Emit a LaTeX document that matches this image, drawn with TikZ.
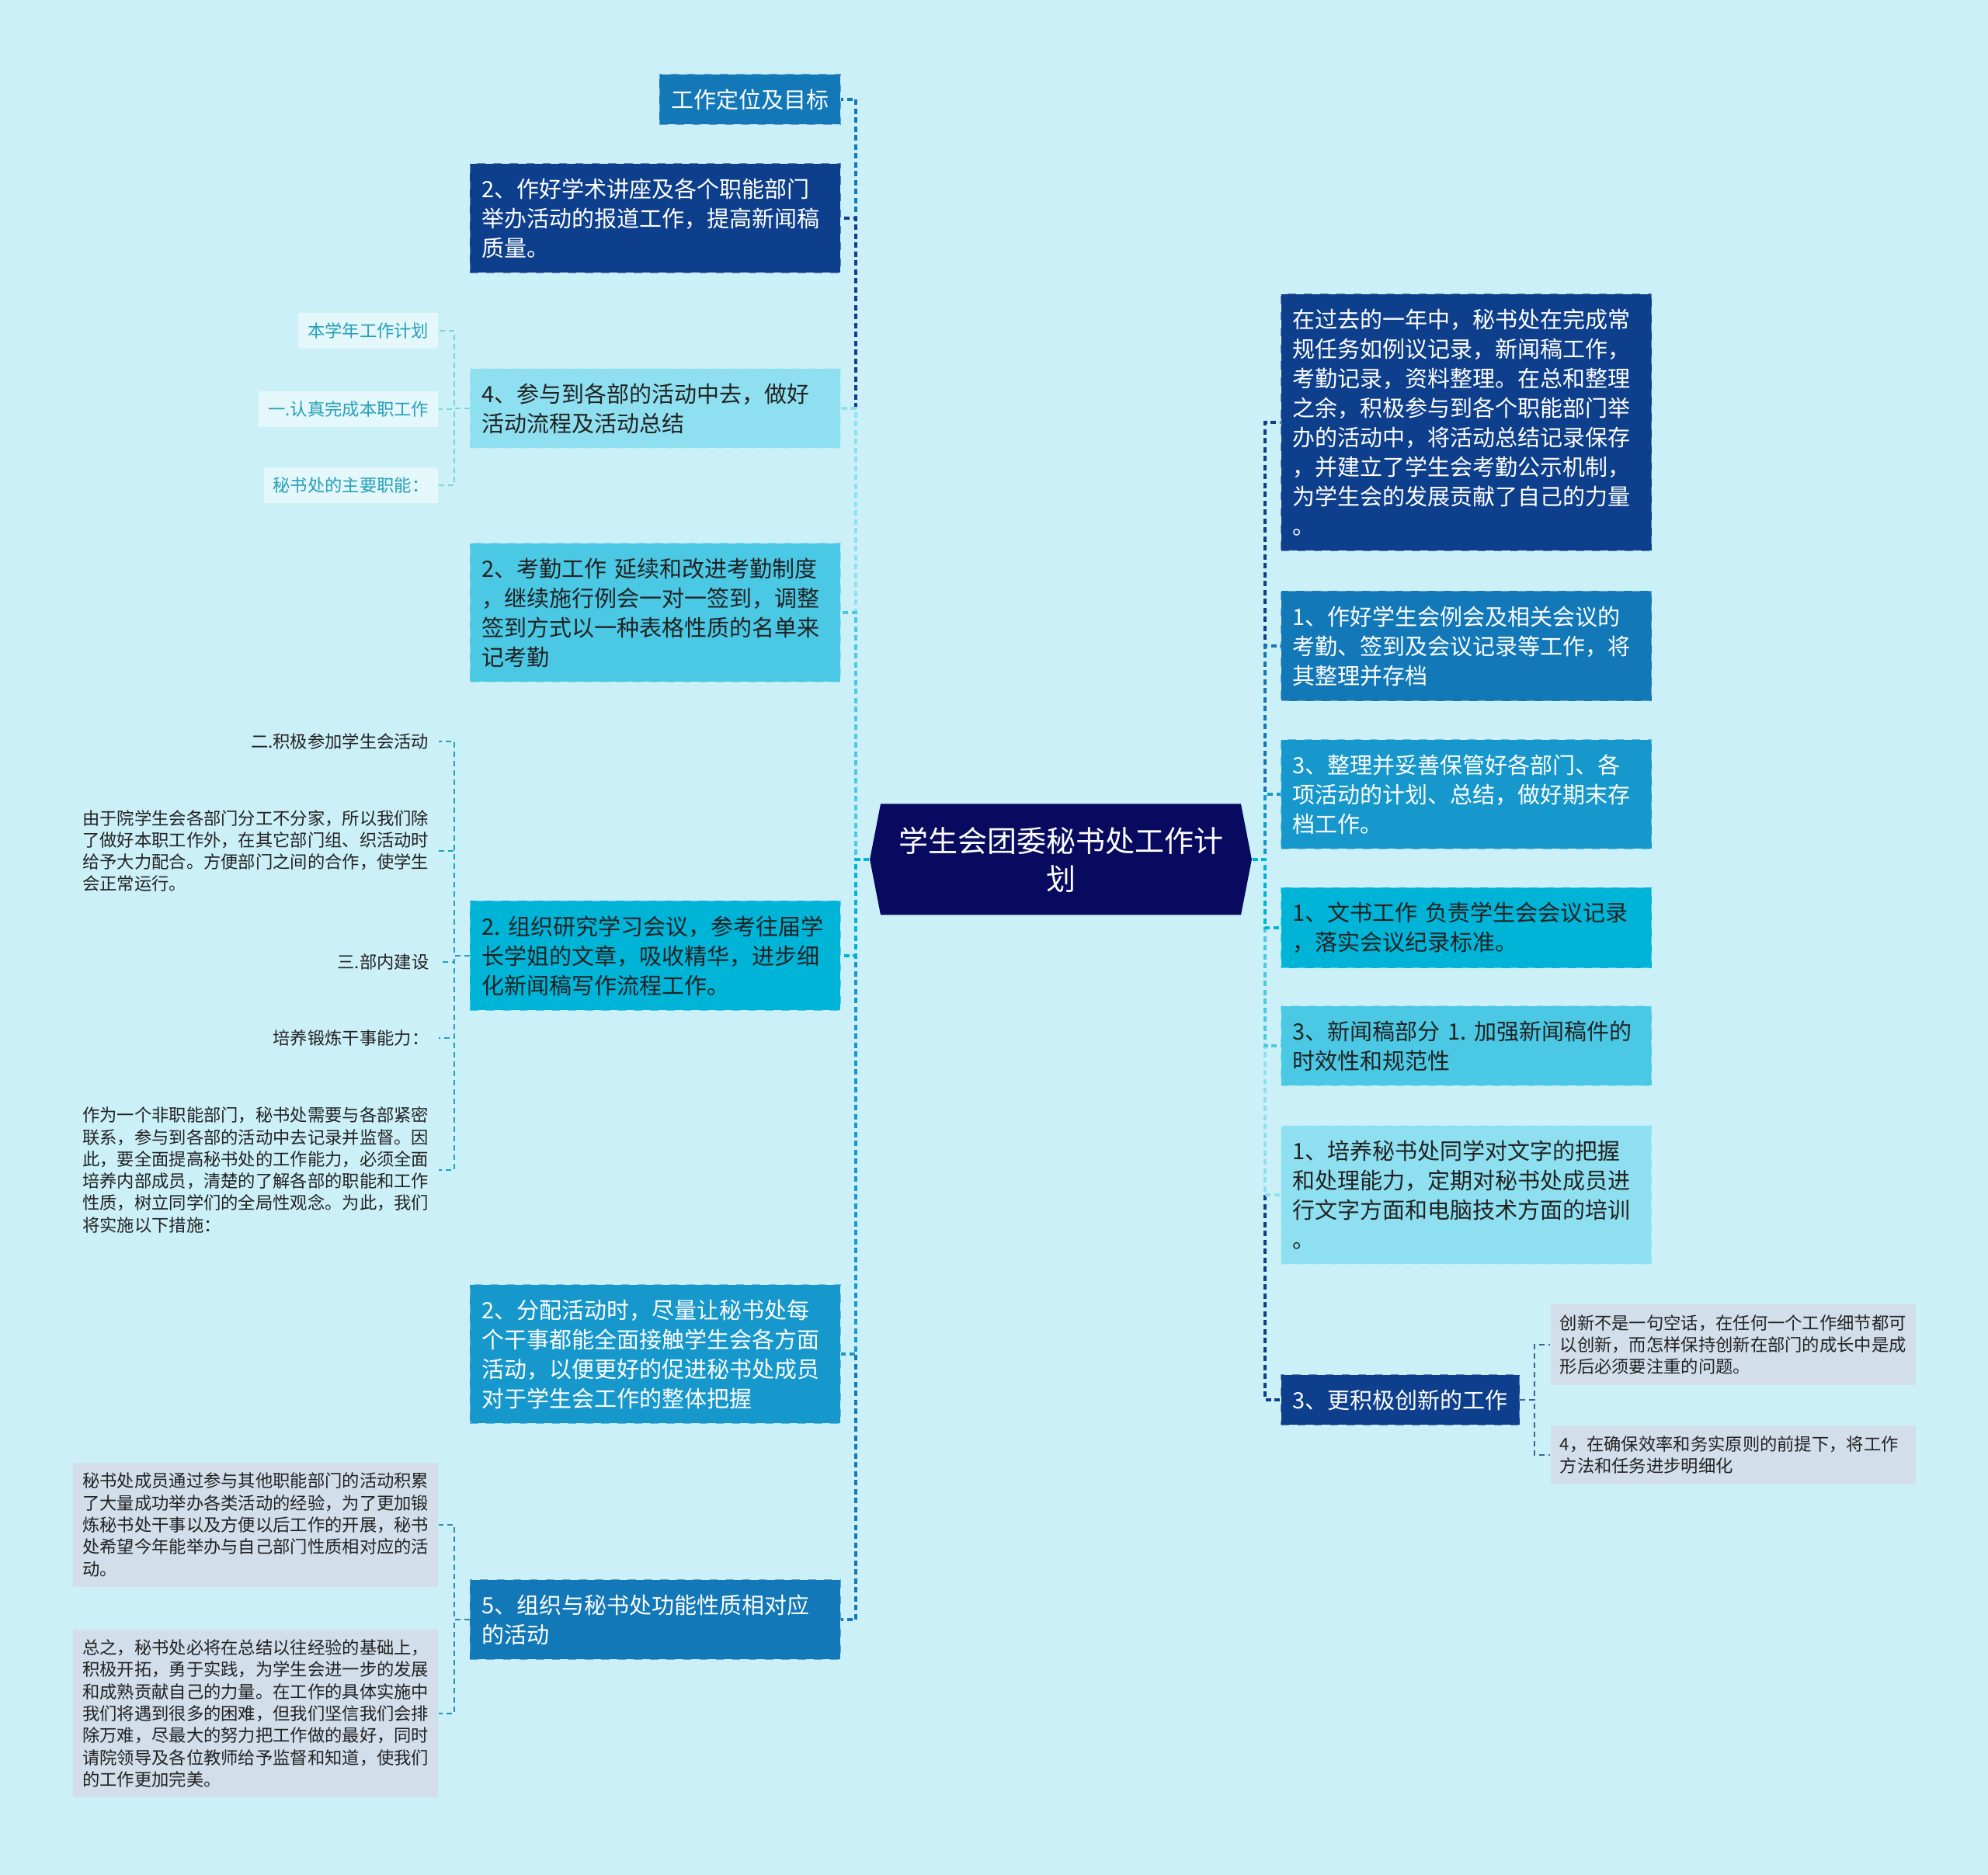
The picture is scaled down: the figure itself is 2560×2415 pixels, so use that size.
\documentclass[tikz,border=0pt]{standalone}
\usepackage{fontspec}
\newfontfamily\cjk{Noto Sans CJK SC}
\usetikzlibrary{shapes.symbols}
\definecolor{bgc}{RGB}{204,240,248}
\definecolor{navy}{RGB}{8,10,96}
\definecolor{dkblue}{RGB}{14,63,140}
\definecolor{mdblue}{RGB}{18,120,184}
\definecolor{blueC}{RGB}{22,152,204}
\definecolor{cyanA}{RGB}{0,180,216}
\definecolor{cyanB}{RGB}{74,200,228}
\definecolor{cyanC}{RGB}{142,224,240}
\definecolor{pale}{RGB}{228,247,251}
\definecolor{tealtx}{RGB}{36,160,184}
\definecolor{greyb}{RGB}{210,222,234}
\definecolor{txt}{RGB}{34,34,34}
\definecolor{lkpale}{RGB}{120,210,226}
\definecolor{lkteal}{RGB}{30,160,190}
\definecolor{lkblue}{RGB}{40,140,180}
\definecolor{lkgrey}{RGB}{60,100,150}

\begin{document}
\begin{tikzpicture}[x=0.1mm,y=-0.1mm,
  topic/.style={shape=signal,signal to=west and east,signal pointer angle=158,fill=navy,text=white,
    font=\cjk\fontsize{3.8mm}{4.9mm}\selectfont,align=center,inner xsep=2.3mm,minimum height=14.3mm},
  box/.style={fill=#1,draw=#1!65!white,dashed,line width=0.12mm,inner xsep=1.5mm,inner ysep=1.9mm,
    align=left,font=\cjk\fontsize{2.9mm}{3.8mm}\selectfont},
  wide/.style={text width=44.7mm},
  note/.style={font=\cjk\fontsize{2.23mm}{2.83mm}\selectfont,text=txt,inner xsep=1.2mm,inner ysep=1.3mm,align=left},
  gnote/.style={note,fill=greyb,text width=44.6mm},
  pnote/.style={note,fill=pale,text=tealtx},
  link/.style={draw=#1,dash pattern=on 0.7mm off 0.45mm,line width=0.35mm},
  sublink/.style={draw=#1,dash pattern=on 0.7mm off 0.5mm,line width=0.2mm}]
\useasboundingbox[fill=bgc] (0,0) rectangle (2560,2415);
\node[topic] (cen) at (1366,1107) {学生会团委秘书处工作计\\划};
\coordinate (sl) at (1102,1107);
\coordinate (sr) at (1629,1107);

\node[box=mdblue,text=white,anchor=east] (l1) at (1083,128) {工作定位及目标};
\node[box=dkblue,text=white,wide,anchor=east] (l2) at (1083,281) {2、作好学术讲座及各个职能部门\\举办活动的报道工作，提高新闻稿\\质量。};
\node[box=cyanC,text=txt,wide,anchor=east] (l3) at (1083,526) {4、参与到各部的活动中去，做好\\活动流程及活动总结};
\node[box=cyanB,text=txt,wide,anchor=east] (l4) at (1083,789) {2、考勤工作~延续和改进考勤制度\\，继续施行例会一对一签到，调整\\签到方式以一种表格性质的名单来\\记考勤};
\node[box=cyanA,text=txt,wide,anchor=east] (l5) at (1083,1231) {2.~组织研究学习会议，参考往届学\\长学姐的文章，吸收精华，进步细\\化新闻稿写作流程工作。};
\node[box=blueC,text=white,wide,anchor=east] (l6) at (1083,1744) {2、分配活动时，尽量让秘书处每\\个干事都能全面接触学生会各方面\\活动，以便更好的促进秘书处成员\\对于学生会工作的整体把握};
\node[box=mdblue,text=white,wide,anchor=east] (l7) at (1083,2086) {5、组织与秘书处功能性质相对应\\的活动};

\node[box=dkblue,text=white,wide,anchor=west] (r1) at (1649,544) {在过去的一年中，秘书处在完成常\\规任务如例议记录，新闻稿工作，\\考勤记录，资料整理。在总和整理\\之余，积极参与到各个职能部门举\\办的活动中，将活动总结记录保存\\，并建立了学生会考勤公示机制，\\为学生会的发展贡献了自己的力量\\。};
\node[box=mdblue,text=white,wide,anchor=west] (r2) at (1649,832) {1、作好学生会例会及相关会议的\\考勤、签到及会议记录等工作，将\\其整理并存档};
\node[box=blueC,text=white,wide,anchor=west] (r3) at (1649,1023) {3、整理并妥善保管好各部门、各\\项活动的计划、总结，做好期末存\\档工作。};
\node[box=cyanA,text=txt,wide,anchor=west] (r4) at (1649,1195) {1、文书工作~负责学生会会议记录\\，落实会议纪录标准。};
\node[box=cyanB,text=txt,wide,anchor=west] (r5) at (1649,1347) {3、新闻稿部分~1.~加强新闻稿件的\\时效性和规范性};
\node[box=cyanC,text=txt,wide,anchor=west] (r6) at (1649,1539) {1、培养秘书处同学对文字的把握\\和处理能力，定期对秘书处成员进\\行文字方面和电脑技术方面的培训\\。};
\node[box=dkblue,text=white,anchor=west] (r7) at (1649,1803) {3、更积极创新的工作};

\node[gnote,anchor=west] (c1) at (1996,1732) {创新不是一句空话，在任何一个工作细节都可\\以创新，而怎样保持创新在部门的成长中是成\\形后必须要注重的问题。};
\node[gnote,anchor=west] (c2) at (1996,1874) {4，在确保效率和务实原则的前提下，将工作\\方法和任务进步明细化};

\node[pnote,anchor=east] (a1) at (565,426) {本学年工作计划};
\node[pnote,anchor=east] (a2) at (565,527) {一.认真完成本职工作};
\node[pnote,anchor=east] (a3) at (565,625) {秘书处的主要职能：};

\node[note,anchor=east] (b1) at (565,955) {二.积极参加学生会活动};
\node[note,anchor=east,text width=44.6mm] (b2) at (565,1096) {由于院学生会各部门分工不分家，所以我们除\\了做好本职工作外，在其它部门组、织活动时\\给予大力配合。方便部门之间的合作，使学生\\会正常运行。};
\node[note,anchor=east] (b3) at (565,1239) {三.部内建设};
\node[note,anchor=east] (b4) at (565,1337) {培养锻炼干事能力：};
\node[note,anchor=east,text width=44.6mm] (b5) at (565,1507) {作为一个非职能部门，秘书处需要与各部紧密\\联系，参与到各部的活动中去记录并监督。因\\此，要全面提高秘书处的工作能力，必须全面\\培养内部成员，清楚的了解各部的职能和工作\\性质，树立同学们的全局性观念。为此，我们\\将实施以下措施：};

\node[gnote,anchor=east] (d1) at (565,1964) {秘书处成员通过参与其他职能部门的活动积累\\了大量成功举办各类活动的经验，为了更加锻\\炼秘书处干事以及方便以后工作的开展，秘书\\处希望今年能举办与自己部门性质相对应的活\\动。};
\node[gnote,anchor=east] (d2) at (565,2207) {总之，秘书处必将在总结以往经验的基础上，\\积极开拓，勇于实践，为学生会进一步的发展\\和成熟贡献自己的力量。在工作的具体实施中\\我们将遇到很多的困难，但我们坚信我们会排\\除万难，尽最大的努力把工作做的最好，同时\\请院领导及各位教师给予监督和知道，使我们\\的工作更加完美。};

\draw[link=mdblue] (cen.west) -- (sl) |- (l1.east);
\draw[link=dkblue] (cen.west) -- (sl) |- (l2.east);
\draw[link=cyanC] (cen.west) -- (sl) |- (l3.east);
\draw[link=cyanB] (cen.west) -- (sl) |- (l4.east);
\draw[link=mdblue] (cen.west) -- (sl) |- (l7.east);
\draw[link=blueC] (cen.west) -- (sl) |- (l6.east);
\draw[link=cyanA] (cen.west) -- (sl) |- (l5.east);

\draw[link=dkblue] (cen.east) -- (sr) |- (r1.west);
\draw[link=mdblue] (cen.east) -- (sr) |- (r2.west);
\draw[link=blueC] (cen.east) -- (sr) |- (r3.west);
\draw[link=dkblue] (cen.east) -- (sr) |- (r7.west);
\draw[link=cyanC] (cen.east) -- (sr) |- (r6.west);
\draw[link=cyanB] (cen.east) -- (sr) |- (r5.west);
\draw[link=cyanA] (cen.east) -- (sr) |- (r4.west);

\coordinate (s3) at (585,526);
\draw[sublink=lkpale] (l3.west) -- (s3) |- (a1.east);
\draw[sublink=lkpale] (l3.west) -- (s3) |- (a2.east);
\draw[sublink=lkpale] (l3.west) -- (s3) |- (a3.east);
\coordinate (s5) at (585,1231);
\draw[sublink=lkteal] (l5.west) -- (s5) |- (b1.east);
\draw[sublink=lkteal] (l5.west) -- (s5) |- (b2.east);
\draw[sublink=lkteal] (l5.west) -- (s5) |- (b3.east);
\draw[sublink=lkteal] (l5.west) -- (s5) |- (b4.east);
\draw[sublink=lkteal] (l5.west) -- (s5) |- (b5.east);
\coordinate (s7) at (585,2086);
\draw[sublink=lkblue] (l7.west) -- (s7) |- (d1.east);
\draw[sublink=lkblue] (l7.west) -- (s7) |- (d2.east);
\coordinate (t7) at (1976,1803);
\draw[sublink=lkgrey] (r7.east) -- (t7) |- (c1.west);
\draw[sublink=lkgrey] (r7.east) -- (t7) |- (c2.west);
\end{tikzpicture}
\end{document}
